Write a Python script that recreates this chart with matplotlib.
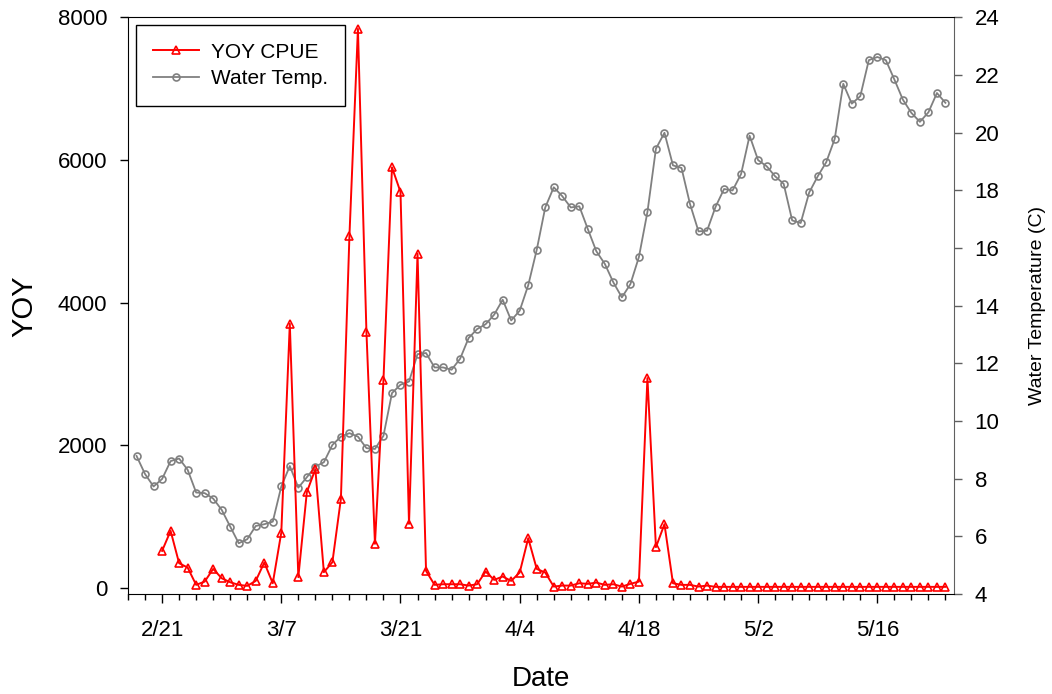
import matplotlib
matplotlib.use("Agg")
import matplotlib.pyplot as plt
import matplotlib.dates as mdates
from matplotlib.ticker import FixedLocator, FuncFormatter
import pandas as pd

plt.rcParams["font.family"] = ["Liberation Sans", "DejaVu Sans"]

# water temperature, daily from 2/18
temp_start = "2019-02-18"
water_temp = [8.79, 8.16, 7.73, 7.99, 8.61, 8.70, 8.31, 7.52, 7.50, 7.31,
              6.92, 6.34, 5.76, 5.90, 6.36, 6.42, 6.51, 7.73, 8.44, 7.69,
              8.05, 8.42, 8.57, 9.17, 9.46, 9.58, 9.46, 9.06, 9.03, 9.49,
              10.97, 11.26, 11.37, 12.32, 12.36, 11.86, 11.86, 11.78, 12.16, 12.88,
              13.19, 13.36, 13.69, 14.21, 13.49, 13.83, 14.71, 15.94, 17.41, 18.11,
              17.80, 17.41, 17.45, 16.66, 15.89, 15.45, 14.81, 14.29, 14.75, 15.69,
              17.25, 19.45, 20.00, 18.87, 18.78, 17.53, 16.58, 16.60, 17.43, 18.05,
              18.00, 18.57, 19.90, 19.05, 18.84, 18.49, 18.23, 16.96, 16.87, 17.93,
              18.49, 18.98, 19.79, 21.70, 21.01, 21.27, 22.52, 22.63, 22.52, 21.85,
              21.15, 20.69, 20.38, 20.71, 21.38, 21.04]

# YOY CPUE, daily from 2/21
cpue_start = "2019-02-21"
yoy_cpue = [515, 796, 342, 281, 38, 84, 262, 131, 75, 38,
            24, 94, 351, 61, 772, 3702, 146, 1339, 1662, 216,
            356, 1245, 4928, 7840, 3586, 614, 2916, 5897, 5551, 894,
            4685, 234, 38, 47, 47, 47, 28, 47, 225, 108,
            155, 94, 211, 693, 262, 211, 14, 28, 28, 61,
            52, 70, 38, 47, 14, 52, 84, 2940, 567, 890,
            61, 38, 38, 14, 28,
            10, 10, 10, 10, 10, 10, 10, 10, 10, 10,
            10, 10, 10, 10, 10, 10, 10, 10, 10, 10,
            10, 10, 10, 10, 10, 10, 10, 10]

temp_dates = pd.date_range(temp_start, periods=len(water_temp), freq="D")
cpue_dates = pd.date_range(cpue_start, periods=len(yoy_cpue), freq="D")

fig = plt.figure(figsize=(10.52, 6.94), dpi=100)
ax = fig.add_axes([0.1217, 0.1441, 0.7851, 0.8307])
ax2 = ax.twinx()

ax2.plot(temp_dates, water_temp, color="#808080", lw=1.3, marker="o",
         ms=5, mfc="none", mec="#808080", mew=1.2, label="Water Temp.")
ax.plot(cpue_dates, yoy_cpue, color="#ff0000", lw=1.4, marker="^",
        ms=6, mfc="none", mec="#ff0000", mew=1.2, label="YOY CPUE")

# red on top of gray
ax.set_zorder(ax2.get_zorder() + 1)
ax.patch.set_visible(False)

ax.set_xlim(pd.Timestamp("2019-02-17"), pd.Timestamp("2019-05-25"))
ax.set_ylim(-90, 8000)
ax2.set_ylim(4, 24)

major = pd.date_range("2019-02-21", periods=7, freq="14D")
minor = pd.date_range("2019-02-17", "2019-05-25", freq="2D")
ax.xaxis.set_major_locator(FixedLocator(mdates.date2num(major)))
ax.xaxis.set_minor_locator(FixedLocator(mdates.date2num(minor)))
ax.xaxis.set_major_formatter(FuncFormatter(
    lambda v, p: f"{mdates.num2date(v).month}/{mdates.num2date(v).day}"))
ax.set_yticks([0, 2000, 4000, 6000, 8000])
ax2.set_yticks(range(4, 25, 2))

ax.spines["right"].set_visible(False)
for s in ["left", "top", "bottom"]:
    ax2.spines[s].set_visible(False)
ax2.spines["right"].set_color("#606060")

ax.tick_params(axis="x", which="major", length=6.5, width=1, labelsize=16, pad=12)
ax.tick_params(axis="x", which="minor", length=4.3, width=1)
ax.tick_params(axis="y", length=5.8, width=1, labelsize=16, pad=9)
ax2.tick_params(axis="y", length=5.8, width=1, color="#606060", labelsize=16, pad=9)

ax.set_xlabel("Date", fontsize=20, labelpad=18.5)
ax.set_ylabel("YOY", fontsize=21, labelpad=14)
ax2.set_ylabel("Water Temperature (C)", fontsize=14, labelpad=21)

h1, l1 = ax.get_legend_handles_labels()
h2, l2 = ax2.get_legend_handles_labels()
leg = ax.legend(h1 + h2, l1 + l2, loc="upper left", fontsize=15,
                frameon=True, fancybox=False, framealpha=1, edgecolor="black",
                borderpad=0.85, borderaxespad=0.36, handlelength=2.2,
                handletextpad=0.55, labelspacing=0.35)
leg.get_frame().set_linewidth(1.0)

fig.savefig("out.png", dpi=100)
